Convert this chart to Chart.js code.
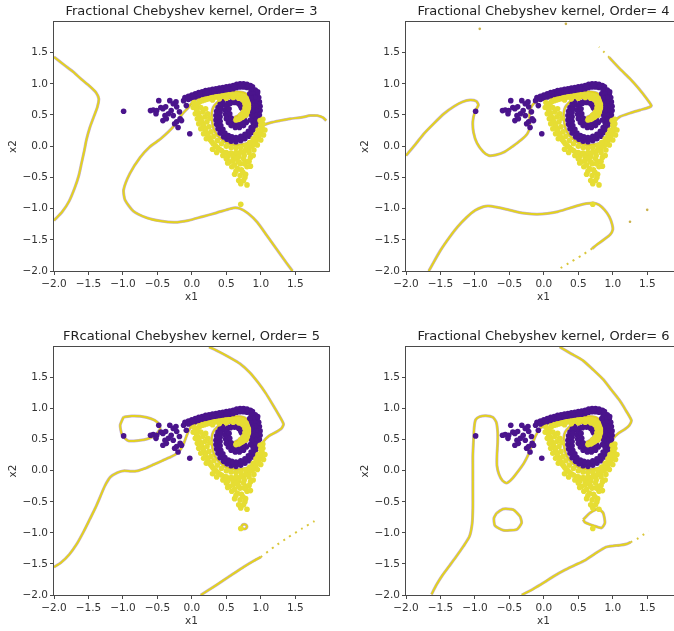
<!DOCTYPE html>
<html><head><meta charset="utf-8">
<script src="https://cdn.jsdelivr.net/npm/chart.js@4.4.1/dist/chart.umd.min.js"></script>
<style>
html,body{margin:0;padding:0;background:#fff;overflow:hidden;width:674px;height:631px;position:relative;}
canvas{position:absolute;}
</style></head><body>
<canvas id="c1" style="left:0px;top:0px" width="337" height="307"></canvas>
<canvas id="c2" style="left:352px;top:0px" width="337" height="307"></canvas>
<canvas id="c3" style="left:0px;top:325px" width="337" height="306"></canvas>
<canvas id="c4" style="left:352px;top:325px" width="337" height="306"></canvas>
<script>
const titles = ["Fractional Chebyshev kernel, Order= 3","Fractional Chebyshev kernel, Order= 4","FRcational Chebyshev kernel, Order= 5","Fractional Chebyshev kernel, Order= 6"];
const xTicks = [-2,-1.5,-1,-0.5,0,0.5,1,1.5];
const yTicks = [-2,-1.5,-1,-0.5,0,0.5,1,1.5];
const axisMin = -2, axisMax = 1.99;

const purplePoints = [
[-0.99,0.56],[-0.6,0.57],[-0.56,0.58],[-0.51,0.57],[-0.52,0.52],[-0.48,0.73],[-0.45,0.62],[-0.42,0.6],[-0.42,0.41],[-0.39,0.49],[-0.37,0.44],[-0.38,0.63],[-0.34,0.52],[-0.32,0.73],[-0.3,0.57],[-0.27,0.68],[-0.27,0.49],[-0.25,0.36],[-0.23,0.71],[-0.22,0.63],[-0.22,0.39],[-0.2,0.3],[-0.18,0.55],[-0.17,0.44],[-0.15,0.41],[-0.12,0.73],[-0.08,0.65],[-0.03,0.2],
[-0.1,0.78],[-0.05,0.8],[0,0.82],[0.05,0.84],[0.1,0.86],[0.15,0.87],[0.2,0.89],[0.25,0.9],[0.3,0.91],[0.35,0.92],[0.4,0.93],[0.45,0.94],[0.5,0.95],[0.55,0.96],[0.6,0.97],[0.65,0.99],[0.7,1.0],[0.75,1.0],[0.8,0.99],[0.85,0.97],
[-0.05,0.75],[0,0.77],[0.05,0.79],[0.1,0.81],[0.15,0.83],[0.2,0.84],[0.25,0.85],[0.3,0.86],[0.35,0.87],[0.4,0.88],[0.45,0.89],[0.5,0.9],[0.55,0.91],[0.6,0.92],[0.65,0.94],[0.7,0.95],[0.75,0.95],[0.8,0.94],
[0.02,0.795],[0.12,0.835],[0.22,0.865],[0.32,0.885],[0.42,0.905],[0.52,0.925],[0.62,0.945],[0.72,0.975],[0.82,0.965],
[0.88,0.95],[0.92,0.9],[0.95,0.84],[0.97,0.78],[0.98,0.71],[0.99,0.64],[0.99,0.57],[0.98,0.5],[0.97,0.43],[0.95,0.36],[0.92,0.29],[0.88,0.22],[0.83,0.16],[0.77,0.12],[0.71,0.09],[0.64,0.07],[0.57,0.08],[0.51,0.11],[0.46,0.15],[0.41,0.21],[0.38,0.28],[0.36,0.35],[0.35,0.42],[0.35,0.49],[0.36,0.56],[0.38,0.62],[0.41,0.67],[0.45,0.71],
[0.955,0.87],[0.945,0.76],[0.955,0.68],[0.96,0.6],[0.955,0.52],[0.945,0.44],[0.93,0.36],[0.9,0.29],[0.86,0.23],[0.8,0.18],[0.74,0.14],[0.67,0.11],[0.6,0.11],[0.54,0.13],[0.49,0.16],[0.44,0.23],[0.4,0.3],[0.385,0.38],[0.38,0.46],[0.38,0.53],[0.39,0.6],[0.43,0.65],
[0.86,0.9],[0.89,0.84],[0.91,0.78],[0.92,0.71],[0.93,0.64],[0.93,0.57],[0.92,0.5],[0.91,0.43],[0.89,0.37],[0.86,0.3],[0.82,0.24],[0.77,0.19],[0.71,0.16],[0.64,0.14],[0.58,0.15],[0.53,0.17],[0.48,0.21],[0.45,0.27],[0.42,0.33],[0.41,0.4],[0.41,0.47],[0.41,0.54],[0.42,0.6],
[0.84,0.84],[0.86,0.77],[0.87,0.7],[0.88,0.63],[0.88,0.56],[0.87,0.49],[0.85,0.42],
[0.48,0.66],[0.48,0.58],[0.49,0.51],[0.5,0.44],[0.53,0.38],[0.57,0.33],[0.63,0.3],[0.69,0.3],[0.75,0.33],[0.79,0.38],
[0.51,0.63],[0.52,0.55],[0.52,0.48],[0.55,0.4],[0.6,0.35],[0.66,0.33],[0.72,0.35],[0.77,0.41],
[0.53,0.7],[0.59,0.72],[0.65,0.71],[0.7,0.67],[0.72,0.61],[0.56,0.69],[0.62,0.7],[0.68,0.68],[0.71,0.64],
[0.54,0.6],[0.55,0.52],[0.57,0.45],[0.62,0.38],[0.68,0.36],[0.74,0.39]
];
const yellowPoints = [
[0.12,0.72],[0.18,0.74],[0.24,0.76],[0.3,0.78],[0.36,0.79],[0.42,0.8],[0.48,0.81],[0.54,0.82],[0.6,0.82],[0.66,0.82],[0.72,0.81],[0.77,0.78],[0.8,0.73],[0.82,0.67],[0.82,0.61],[0.8,0.55],[0.77,0.5],[0.73,0.46],[0.68,0.43],[0.64,0.42],
[0.15,0.73],[0.21,0.75],[0.27,0.77],[0.33,0.785],[0.39,0.795],[0.45,0.805],[0.51,0.815],[0.57,0.82],[0.63,0.82],[0.69,0.815],[0.745,0.795],[0.79,0.76],[0.81,0.7],[0.82,0.64],[0.81,0.58],[0.785,0.52],[0.75,0.48],[0.7,0.445],
[0.3,0.74],[0.4,0.76],[0.5,0.77],[0.6,0.78],[0.68,0.77],[0.74,0.74],[0.77,0.68],[0.77,0.61],[0.75,0.55],[0.71,0.5],
[0.03,0.7],[0.06,0.62],[0.09,0.54],[0.12,0.46],[0.15,0.38],[0.18,0.3],[0.21,0.22],[0.25,0.14],[0.29,0.07],[0.34,0.01],[0.4,-0.05],[0.47,-0.1],[0.54,-0.13],[0.61,-0.14],[0.68,-0.13],[0.75,-0.1],[0.82,-0.05],[0.88,0.01],[0.93,0.08],[0.97,0.15],[1.0,0.22],[1.02,0.29],[1.03,0.36],[1.03,0.43],
[0.07,0.58],[0.1,0.5],[0.135,0.42],[0.165,0.34],[0.195,0.26],[0.23,0.18],[0.27,0.1],[0.31,0.04],[0.37,-0.02],[0.43,-0.07],[0.5,-0.1],[0.57,-0.11],[0.64,-0.1],[0.71,-0.09],[0.78,-0.06],[0.84,-0.01],[0.89,0.05],[0.94,0.12],[0.985,0.19],[1.01,0.26],[1.0,0.34],[0.99,0.41],
[0.1,0.7],[0.13,0.62],[0.16,0.55],[0.19,0.47],[0.22,0.39],[0.25,0.31],[0.28,0.23],[0.32,0.16],[0.37,0.09],[0.43,0.04],[0.5,0.0],[0.57,-0.02],[0.64,-0.03],[0.71,-0.02],[0.78,0.01],[0.84,0.06],[0.89,0.12],[0.93,0.19],[0.96,0.26],
[0.07,0.66],[0.2,0.6],[0.23,0.52],[0.26,0.45],
[0.45,-0.15],[0.52,-0.17],[0.6,-0.18],[0.68,-0.17],[0.76,-0.15],[0.83,-0.1],[0.9,-0.06],[0.95,0.02],[1.0,0.1],[1.04,0.18],[1.06,0.26],[0.3,-0.05],[0.36,-0.1],[0.02,0.62],[0.05,0.52],[0.08,0.44],[0.1,0.36],[0.13,0.28],[0.17,0.2],[0.21,0.12],
[0.5,-0.2],[0.55,-0.25],[0.6,-0.23],[0.65,-0.2],[0.7,-0.28],[0.75,-0.2],[0.8,-0.25],[0.85,-0.18],[0.89,-0.15],[0.58,-0.33],[0.66,-0.36],[0.72,-0.38],[0.8,-0.33],[0.85,-0.32],[0.62,-0.45],[0.7,-0.47],[0.78,-0.45],[0.68,-0.55],[0.75,-0.55],[0.8,-0.62],
[0.52,-0.27],[0.62,-0.3],[0.68,-0.25],[0.76,-0.28],[0.83,-0.24],[0.64,-0.4],[0.74,-0.42],[0.71,-0.6],[0.77,-0.5],
[0.71,-0.93]
];

const spiralContour = [[0.96,0.2],[0.9,0.12],[0.83,0.06],[0.75,0.03],[0.66,0.02],[0.57,0.03],[0.49,0.06],[0.42,0.12],[0.36,0.19],[0.32,0.27],[0.3,0.36],[0.29,0.45],[0.29,0.54],[0.31,0.62],[0.35,0.68],[0.42,0.74],[0.5,0.765],[0.6,0.77],[0.68,0.76],[0.73,0.72],[0.75,0.66],[0.75,0.6],[0.72,0.54],[0.67,0.49],[0.62,0.46],[0.6,0.42],[0.63,0.39],[0.7,0.41],[0.77,0.45],[0.82,0.5],[0.85,0.57],[0.86,0.65],[0.85,0.73],[0.82,0.8],[0.77,0.85],[0.7,0.87],[0.6,0.875],[0.5,0.865],[0.4,0.85],[0.3,0.83],[0.2,0.8],[0.1,0.77]];

const order3Left = [[-2.0,1.43],[-1.85,1.3],[-1.72,1.19],[-1.6,1.07],[-1.48,0.96],[-1.39,0.86],[-1.35,0.76],[-1.37,0.63],[-1.42,0.48],[-1.48,0.3],[-1.53,0.1],[-1.56,-0.07],[-1.6,-0.27],[-1.64,-0.47],[-1.7,-0.67],[-1.78,-0.88],[-1.88,-1.05],[-2.0,-1.19]];
const order3Right = [[1.95,0.41],[1.9,0.46],[1.82,0.49],[1.72,0.49],[1.58,0.46],[1.43,0.44],[1.28,0.41],[1.15,0.38],[1.05,0.34],[1.0,0.29]];
const order3Loop = [[0.02,0.72],[-0.05,0.62],[-0.15,0.5],[-0.27,0.31],[-0.45,0.12],[-0.61,-0.01],[-0.75,-0.18],[-0.9,-0.44],[-0.99,-0.7],[-0.97,-0.86],[-0.85,-1.04],[-0.65,-1.15],[-0.45,-1.2],[-0.25,-1.22],[-0.05,-1.19],[0.15,-1.13],[0.35,-1.07],[0.5,-1.02],[0.6,-0.99],[0.7,-1.0],[0.82,-1.08],[0.95,-1.22],[1.1,-1.45],[1.25,-1.68],[1.38,-1.88],[1.46,-2.0]];

const order4Wave = [[-2.0,-0.15],[-1.87,0.02],[-1.74,0.2],[-1.6,0.36],[-1.45,0.52],[-1.3,0.64],[-1.18,0.71],[-1.07,0.74],[-0.98,0.72],[-0.95,0.66],[-1.0,0.55],[-1.03,0.4],[-1.02,0.22],[-0.97,0.05],[-0.88,-0.09],[-0.8,-0.15],[-0.7,-0.14],[-0.57,-0.09],[-0.45,0.0],[-0.33,0.1],[-0.24,0.2],[-0.2,0.32],[-0.21,0.45],[-0.2,0.58],[-0.15,0.68],[-0.05,0.75],[0.03,0.77]];
const order4Right = [[1.0,0.3],[1.03,0.4],[1.1,0.47],[1.25,0.53],[1.4,0.58],[1.52,0.62],[1.56,0.65],[1.5,0.75],[1.38,0.92],[1.25,1.08],[1.12,1.22],[1.0,1.36],[0.95,1.42]];
const order4Dash = [[0.95,1.42],[0.88,1.5],[0.8,1.59]];
const order4Lower = [[-1.67,-2.0],[-1.5,-1.67],[-1.37,-1.46],[-1.25,-1.29],[-1.12,-1.14],[-1.0,-1.03],[-0.88,-0.97],[-0.8,-0.96],[-0.68,-0.98],[-0.55,-1.01],[-0.4,-1.05],[-0.25,-1.08],[-0.1,-1.09],[0.05,-1.08],[0.2,-1.05],[0.35,-1.0],[0.5,-0.95],[0.62,-0.92],[0.72,-0.91],[0.8,-0.94],[0.88,-1.02],[0.95,-1.13],[0.99,-1.25],[1.0,-1.34],[0.96,-1.42],[0.88,-1.49],[0.78,-1.57],[0.7,-1.64]];
const order4LowerDots = [[0.7,-1.64],[0.55,-1.75],[0.4,-1.85],[0.2,-1.98]];
const order4Specks = [[-0.93,1.88],[0.32,1.96],[1.25,-1.21],[1.5,-1.02]];

const order5Top = [[0.25,1.99],[0.4,1.91],[0.55,1.82],[0.7,1.72],[0.84,1.58],[0.96,1.42],[1.07,1.25],[1.17,1.07],[1.26,0.9],[1.33,0.75],[1.3,0.68],[1.22,0.62],[1.12,0.56],[1.04,0.47],[1.0,0.35]];
const order5Left = [[0.02,0.74],[-0.04,0.66],[-0.08,0.55],[-0.12,0.43],[-0.17,0.33],[-0.24,0.26],[-0.33,0.21],[-0.43,0.16],[-0.55,0.1],[-0.67,0.04],[-0.78,0.0],[-0.88,-0.01],[-0.98,0.0],[-1.08,-0.03],[-1.18,-0.1],[-1.26,-0.24],[-1.33,-0.42],[-1.4,-0.6],[-1.48,-0.78],[-1.57,-0.98],[-1.67,-1.18],[-1.78,-1.35],[-1.9,-1.48],[-2.0,-1.55]];
const order5Loop = [[-0.99,0.865],[-0.87,0.88],[-0.75,0.875],[-0.6,0.84],[-0.5,0.78],[-0.46,0.68],[-0.53,0.57],[-0.65,0.51],[-0.75,0.49],[-0.92,0.48],[-1.01,0.57],[-1.04,0.73],[-0.99,0.865]];
const order5Small = [[0.72,-0.9],[0.735,-0.87],[0.76,-0.86],[0.785,-0.87],[0.8,-0.9],[0.785,-0.93],[0.76,-0.94],[0.735,-0.93],[0.72,-0.9]];
const order5Lower = [[0.13,-2.0],[0.3,-1.88],[0.45,-1.77],[0.6,-1.66],[0.75,-1.55],[0.9,-1.45],[1.0,-1.39]];
const order5LowerDots = [[1.0,-1.39],[1.2,-1.22],[1.4,-1.07],[1.6,-0.93],[1.78,-0.81]];

const order6Top = [[0.23,1.99],[0.4,1.88],[0.57,1.77],[0.72,1.62],[0.86,1.47],[0.98,1.3],[1.1,1.13],[1.19,0.97],[1.27,0.81],[1.24,0.73],[1.18,0.67],[1.08,0.6],[1.01,0.52],[0.98,0.4],[0.97,0.3]];
const order6Left = [[0.02,0.74],[-0.06,0.67],[-0.12,0.56],[-0.17,0.42],[-0.22,0.27],[-0.29,0.12],[-0.38,-0.02],[-0.46,-0.13],[-0.54,-0.2],[-0.6,-0.16],[-0.65,-0.06],[-0.68,0.08],[-0.68,0.25],[-0.67,0.45],[-0.67,0.62],[-0.69,0.78],[-0.74,0.86],[-0.84,0.885],[-0.93,0.87],[-0.99,0.82],[-1.01,0.7],[-1.02,0.5],[-1.03,0.25],[-1.03,0.0],[-1.03,-0.3],[-1.03,-0.6],[-1.04,-0.85],[-1.08,-1.06],[-1.17,-1.22],[-1.27,-1.38],[-1.37,-1.53],[-1.47,-1.68],[-1.56,-1.84],[-1.63,-1.99]];
const order6LoopL = [[-0.685,-0.681],[-0.589,-0.617],[-0.444,-0.628],[-0.347,-0.734],[-0.323,-0.84],[-0.395,-0.947],[-0.589,-0.957],[-0.71,-0.883],[-0.724,-0.761],[-0.685,-0.681]];
const order6LoopR = [[0.571,-0.787],[0.668,-0.681],[0.789,-0.617],[0.861,-0.681],[0.886,-0.84],[0.837,-0.92],[0.716,-0.883],[0.596,-0.83],[0.571,-0.787]];
const order6Lower = [[-0.32,-2.0],[-0.15,-1.9],[0.0,-1.8],[0.14,-1.7],[0.3,-1.6],[0.45,-1.52],[0.6,-1.44],[0.75,-1.33],[0.9,-1.23],[1.0,-1.21],[1.1,-1.2],[1.2,-1.18],[1.26,-1.15]];
const order6LowerDots = [[1.26,-1.15],[1.35,-1.1],[1.43,-1.04],[1.52,-0.97]];

const PURPLE = '#4a148c', YELLOW = '#e6dd33';
const LINE_Y = '#e3d21f', LINE_P = 'rgba(125,80,165,0.45)';
const FONT = 'DejaVu Sans';

const P = a => a.map(([x, y]) => ({x, y}));
const fmt = v => (v < 0 ? '\u2212' : '') + Math.abs(v).toFixed(1);

const frame = {
  id: 'frame',
  afterDatasetsDraw(chart) {
    const {ctx, chartArea: a} = chart;
    ctx.save();
    ctx.strokeStyle = '#4a4a4a';
    ctx.lineWidth = 1;
    ctx.strokeRect(Math.round(a.left) - 0.5, Math.round(a.top) - 0.5, Math.round(a.right - a.left) + 1, Math.round(a.bottom - a.top) + 1);
    ctx.restore();
  }
};

function lineSets(paths, dashed, specks) {
  const ds = [];
  paths.forEach(p => {
    ds.push({data: P(p), showLine: true, pointRadius: 0, borderColor: LINE_Y, borderWidth: 2, tension: 0.2, clip: 0, order: 2});
    ds.push({data: P(p), showLine: true, pointRadius: 0, borderColor: LINE_P, borderWidth: 3, tension: 0.2, clip: 0, order: 3});
  });
  dashed.forEach(p => {
    ds.push({data: P(p), showLine: true, pointRadius: 0, borderColor: '#d9c63a', borderWidth: 2, borderDash: [2, 5], tension: 0.2, clip: 0, order: 2});
  });
  if (specks && specks.length) {
    ds.push({data: P(specks), pointRadius: 1.3, pointBorderWidth: 0, backgroundColor: '#c9b04a', order: 2});
  }
  return ds;
}

function axis(ticks, titleText, isX) {
  return {
    type: 'linear', min: axisMin, max: axisMax,
    afterBuildTicks: s => { s.ticks = ticks.map(v => ({value: v})); },
    afterFit: s => { if (isX) s.height = 36; else s.width = 54; },
    ticks: {callback: fmt, font: {family: FONT, size: 10.5}, color: '#333', padding: isX ? 3 : 2, maxRotation: 0, autoSkip: false},
    grid: {drawOnChartArea: false, drawTicks: true, tickLength: 4, color: '#4a4a4a', lineWidth: 1},
    border: {display: false},
    title: {display: true, text: titleText, font: {family: FONT, size: 10.5}, color: '#333', padding: isX ? {top: 0, bottom: 3} : {top: 7, bottom: 0}}
  };
}

function makeChart(id, title, paths, dashed, specks) {
  const datasets = [
    {data: P(yellowPoints), pointRadius: 2.8, pointBorderWidth: 0, backgroundColor: YELLOW, order: 0},
    {data: P(purplePoints), pointRadius: 2.8, pointBorderWidth: 0, backgroundColor: PURPLE, order: 1},
    ...lineSets(paths, dashed, specks)
  ];
  new Chart(document.getElementById(id), {
    type: 'scatter',
    data: {datasets},
    options: {
      responsive: false, animation: false, devicePixelRatio: 1,
      layout: {padding: {left: 0, right: 8, top: 0, bottom: 0}},
      scales: {x: axis(xTicks, 'x1', true), y: axis(yTicks, 'x2', false)},
      plugins: {
        legend: {display: false}, tooltip: {enabled: false},
        title: {display: true, text: title, fullSize: false, font: {family: FONT, size: 13, weight: 'normal'}, color: '#222', padding: {top: 4, bottom: 2.4}}
      },
      events: []
    },
    plugins: [frame]
  });
}

makeChart('c1', titles[0], [order3Left, [...order3Right, ...spiralContour, ...order3Loop]], [], []);
makeChart('c2', titles[1], [[...order4Wave, ...spiralContour.slice().reverse(), ...order4Right], order4Lower], [order4Dash, order4LowerDots], order4Specks);
makeChart('c3', titles[2], [[...order5Top, ...spiralContour, ...order5Left], order5Loop, order5Small, order5Lower], [order5LowerDots], []);
makeChart('c4', titles[3], [[...order6Top, ...spiralContour, ...order6Left], order6LoopL, order6LoopR, order6Lower], [order6LowerDots], []);
</script>
</body></html>
